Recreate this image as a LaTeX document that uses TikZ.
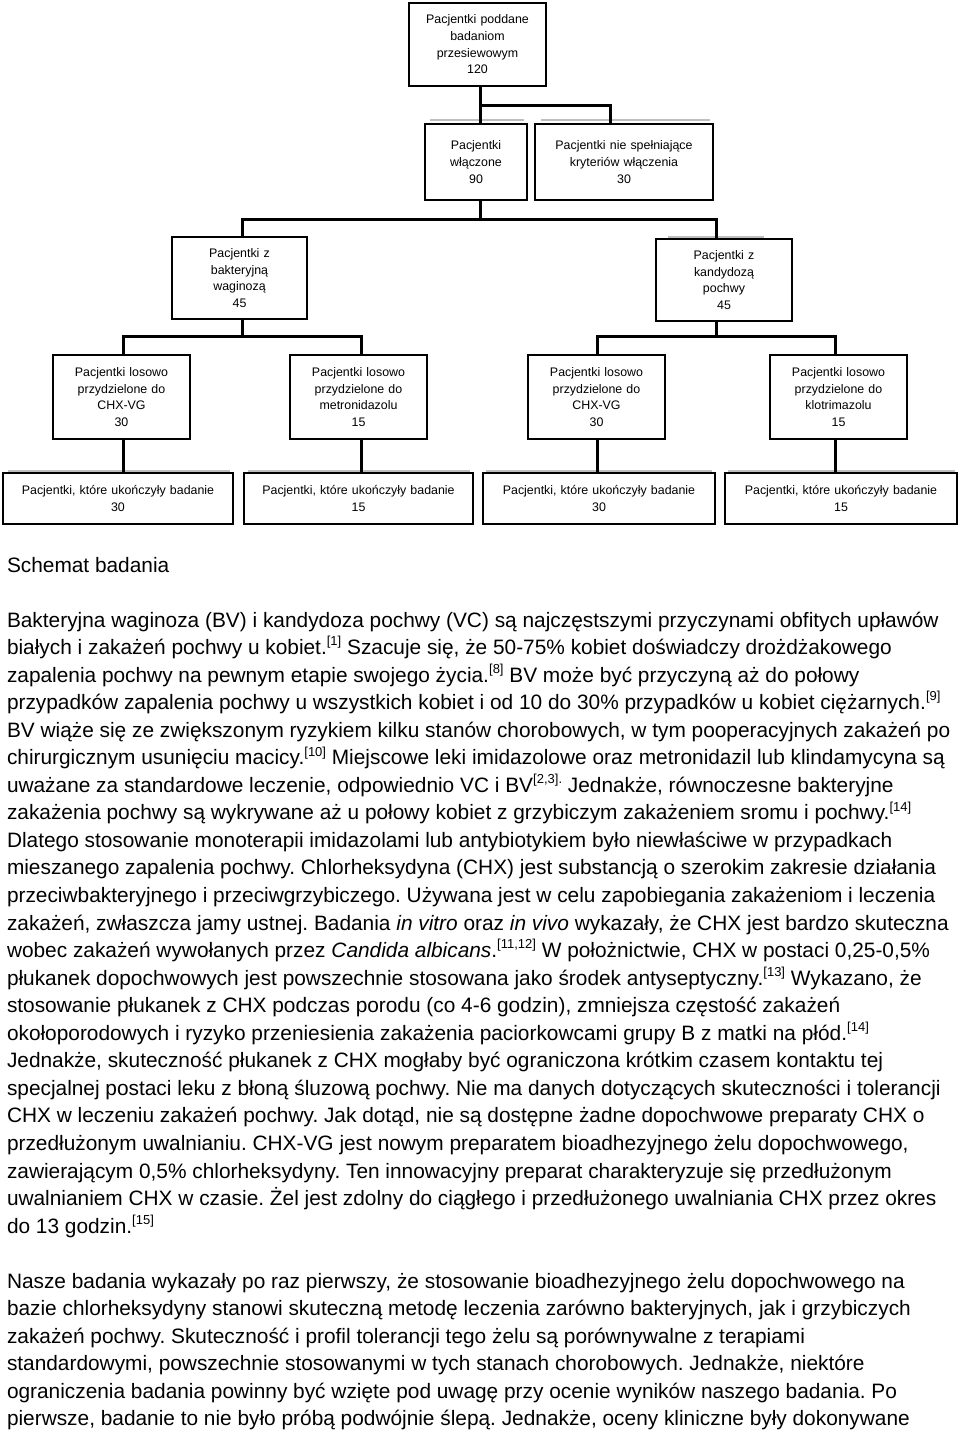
\documentclass[tikz,border=0pt]{standalone}
\usepackage{fontspec}
\setmainfont{Liberation Sans}
\newcommand{\refm}[1]{\raisebox{0.42em}{\fontsize{13}{13}\selectfont[#1]}}
\tikzset{
  box/.style={draw=black, line width=1.4pt, fill=white, inner sep=0pt, outer sep=0pt,
    align=center, font=\fontsize{12.4}{16.7}\selectfont},
  conn/.style={line width=3pt, black, line join=miter},
  shd/.style={line width=1.6pt, black!25},
  txt/.style={anchor=base west, inner sep=0pt, outer sep=0pt, font=\fontsize{20.85}{27.5}\selectfont},
}
\begin{document}
\frenchspacing
\begin{tikzpicture}[x=1pt,y=-1pt]
\useasboundingbox (0,0) rectangle (960,1432);
\fill[white] (0,0) rectangle (960,1432);

% faint shadow lines above some boxes
\draw[shd] (430,120) -- (524,120);
\draw[shd] (541,120) -- (710,120);
\draw[shd] (668,237) -- (764,237);
\draw[shd] (8,471) -- (230,471);
\draw[shd] (248,471) -- (470,471);
\draw[shd] (486,471) -- (712,471);
\draw[shd] (728,471) -- (955,471);

% boxes
\node[box, minimum width=137pt, minimum height=83pt, text width=137pt] (T) at (477.5,44.5)
  {Pacjentki poddane\\badaniom\\przesiewowym\\120};
\node[box, minimum width=102pt, minimum height=76pt, text width=102pt] (A) at (476,162)
  {Pacjentki\\włączone\\90\\[2pt]};
\node[box, minimum width=178pt, minimum height=76pt, text width=178pt] (B) at (624,162)
  {Pacjentki nie spełniające\\kryteriów włączenia\\30\\[2pt]};
\node[box, minimum width=135pt, minimum height=82pt, text width=135pt] (C) at (239.5,278)
  {Pacjentki z\\bakteryjną\\waginozą\\45};
\node[box, minimum width=136pt, minimum height=82pt, text width=136pt] (D) at (724,280)
  {Pacjentki z\\kandydozą\\pochwy\\45};
\node[box, minimum width=137pt, minimum height=84pt, text width=137pt] (E) at (121.5,397)
  {Pacjentki losowo\\przydzielone do\\CHX-VG\\30};
\node[box, minimum width=137pt, minimum height=84pt, text width=137pt] (F) at (358.5,397)
  {Pacjentki losowo\\przydzielone do\\metronidazolu\\15};
\node[box, minimum width=137pt, minimum height=84pt, text width=137pt] (G) at (596.5,397)
  {Pacjentki losowo\\przydzielone do\\CHX-VG\\30};
\node[box, minimum width=137pt, minimum height=84pt, text width=137pt] (H) at (838.5,397)
  {Pacjentki losowo\\przydzielone do\\klotrimazolu\\15};
\node[box, minimum width=230pt, minimum height=51pt, text width=230pt] (I) at (118,498.5)
  {Pacjentki, które ukończyły badanie\\30};
\node[box, minimum width=229pt, minimum height=51pt, text width=229pt] (J) at (358.5,498.5)
  {Pacjentki, które ukończyły badanie\\15};
\node[box, minimum width=232pt, minimum height=51pt, text width=232pt] (K) at (599,498.5)
  {Pacjentki, które ukończyły badanie\\30};
\node[box, minimum width=232pt, minimum height=51pt, text width=232pt] (L) at (841,498.5)
  {Pacjentki, które ukończyły badanie\\15};

% junctions
\coordinate (j1) at (480,105);
\coordinate (j1r) at (610,105);
\coordinate (j2) at (480,219);
\coordinate (j2l) at (242,219);
\coordinate (j2r) at (716,219);
\coordinate (j3) at (242,336);
\coordinate (j3l) at (123,336);
\coordinate (j3r) at (361,336);
\coordinate (j4) at (716,336);
\coordinate (j4l) at (597,336);
\coordinate (j4r) at (835,336);

% connectors
\draw[conn] (T.south -| j1) -- (A.north -| j1);
\draw[conn] (j1) -- (j1r) -- (B.north -| j1r);
\draw[conn] (A.south -| j2) -- (j2);
\draw[conn] (C.north -| j2l) -- (j2l) -- (j2r) -- (D.north -| j2r);
\draw[conn] (C.south -| j3) -- (j3);
\draw[conn] (E.north -| j3l) -- (j3l) -- (j3r) -- (F.north -| j3r);
\draw[conn] (D.south -| j4) -- (j4);
\draw[conn] (G.north -| j4l) -- (j4l) -- (j4r) -- (H.north -| j4r);
\draw[conn] (E.south -| j3l) -- (I.north -| j3l);
\draw[conn] (F.south -| j3r) -- (J.north -| j3r);
\draw[conn] (G.south -| j4l) -- (K.north -| j4l);
\draw[conn] (H.south -| j4r) -- (L.north -| j4r);

% text
\node[txt] (s0) at (7,572) {Schemat badania};
\node[txt] (t1) at (7,627.0) {Bakteryjna waginoza (BV) i kandydoza pochwy (VC) są najczęstszymi przyczynami obfitych upławów};
\node[txt] (t2) at (7,654.55) {białych i zakażeń pochwy u kobiet.\refm{1} Szacuje się, że 50-75\% kobiet doświadczy drożdżakowego};
\node[txt] (t3) at (7,682.1) {zapalenia pochwy na pewnym etapie swojego życia.\refm{8} BV może być przyczyną aż do połowy};
\node[txt] (t4) at (7,709.65) {przypadków zapalenia pochwy u wszystkich kobiet i od 10 do 30\% przypadków u kobiet ciężarnych.\refm{9}};
\node[txt] (t5) at (7,737.2) {BV wiąże się ze zwiększonym ryzykiem kilku stanów chorobowych, w tym pooperacyjnych zakażeń po};
\node[txt] (t6) at (7,764.75) {chirurgicznym usunięciu macicy.\refm{10} Miejscowe leki imidazolowe oraz metronidazil lub klindamycyna są};
\node[txt] (t7) at (7,792.3) {uważane za standardowe leczenie, odpowiednio VC i BV\raisebox{0.42em}{\fontsize{13}{13}\selectfont[2,3].} Jednakże, równoczesne bakteryjne};
\node[txt] (t8) at (7,819.85) {zakażenia pochwy są wykrywane aż u połowy kobiet z grzybiczym zakażeniem sromu i pochwy.\refm{14}};
\node[txt] (t9) at (7,847.4) {Dlatego stosowanie monoterapii imidazolami lub antybiotykiem było niewłaściwe w przypadkach};
\node[txt] (t10) at (7,874.95) {mieszanego zapalenia pochwy. Chlorheksydyna (CHX) jest substancją o szerokim zakresie działania};
\node[txt] (t11) at (7,902.5) {przeciwbakteryjnego i przeciwgrzybiczego. Używana jest w celu zapobiegania zakażeniom i leczenia};
\node[txt] (t12) at (7,930.05) {zakażeń, zwłaszcza jamy ustnej. Badania \textit{in vitro} oraz \textit{in vivo} wykazały, że CHX jest bardzo skuteczna};
\node[txt] (t13) at (7,957.6) {wobec zakażeń wywołanych przez \textit{Candida albicans}.\refm{11,12} W położnictwie, CHX w postaci 0,25-0,5\%};
\node[txt] (t14) at (7,985.15) {płukanek dopochwowych jest powszechnie stosowana jako środek antyseptyczny.\refm{13} Wykazano, że};
\node[txt] (t15) at (7,1012.7) {stosowanie płukanek z CHX podczas porodu (co 4-6 godzin), zmniejsza częstość zakażeń};
\node[txt] (t16) at (7,1040.25) {okołoporodowych i ryzyko przeniesienia zakażenia paciorkowcami grupy B z matki na płód.\refm{14}};
\node[txt] (t17) at (7,1067.8) {Jednakże, skuteczność płukanek z CHX mogłaby być ograniczona krótkim czasem kontaktu tej};
\node[txt] (t18) at (7,1095.35) {specjalnej postaci leku z błoną śluzową pochwy. Nie ma danych dotyczących skuteczności i tolerancji};
\node[txt] (t19) at (7,1122.9) {CHX w leczeniu zakażeń pochwy. Jak dotąd, nie są dostępne żadne dopochwowe preparaty CHX o};
\node[txt] (t20) at (7,1150.45) {przedłużonym uwalnianiu. CHX-VG jest nowym preparatem bioadhezyjnego żelu dopochwowego,};
\node[txt] (t21) at (7,1178.0) {zawierającym 0,5\% chlorheksydyny. Ten innowacyjny preparat charakteryzuje się przedłużonym};
\node[txt] (t22) at (7,1205.55) {uwalnianiem CHX w czasie. Żel jest zdolny do ciągłego i przedłużonego uwalniania CHX przez okres};
\node[txt] (t23) at (7,1233.1) {do 13 godzin.\refm{15}};
\node[txt] (u1) at (7,1288) {Nasze badania wykazały po raz pierwszy, że stosowanie bioadhezyjnego żelu dopochwowego na};
\node[txt] (u2) at (7,1315.5) {bazie chlorheksydyny stanowi skuteczną metodę leczenia zarówno bakteryjnych, jak i grzybiczych};
\node[txt] (u3) at (7,1343) {zakażeń pochwy. Skuteczność i profil tolerancji tego żelu są porównywalne z terapiami};
\node[txt] (u4) at (7,1370.5) {standardowymi, powszechnie stosowanymi w tych stanach chorobowych. Jednakże, niektóre};
\node[txt] (u5) at (7,1398) {ograniczenia badania powinny być wzięte pod uwagę przy ocenie wyników naszego badania. Po};
\node[txt] (u6) at (7,1425.5) {pierwsze, badanie to nie było próbą podwójnie ślepą. Jednakże, oceny kliniczne były dokonywane};
\end{tikzpicture}
\end{document}
